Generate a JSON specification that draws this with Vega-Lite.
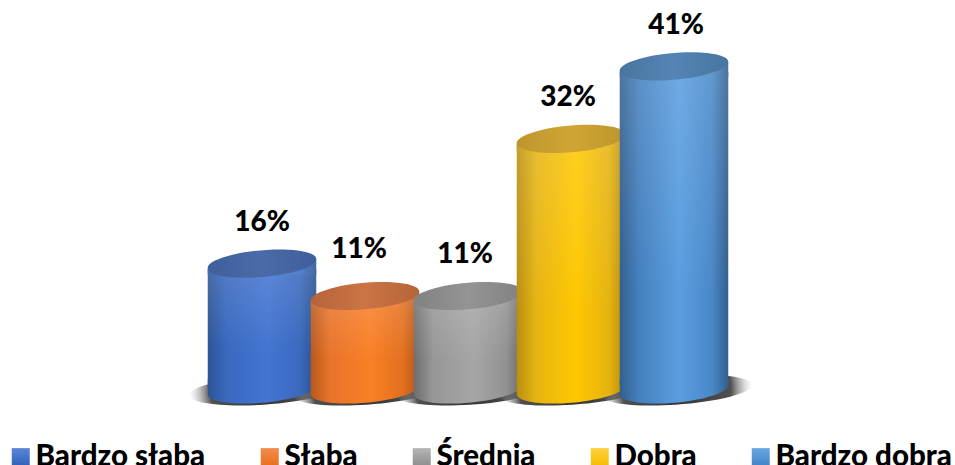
{"$schema":"https://vega.github.io/schema/vega-lite/v6.json","width":955,"height":465,"autosize":"none","padding":0,"background":"white","view":{"stroke":null},
"data":{"values":[{"cat":"Bardzo słaba","v":16.2,"label":"16%"},{"cat":"Słaba","v":12.05,"label":"11%"},{"cat":"Średnia","v":12.05,"label":"11%"},{"cat":"Dobra","v":32.2,"label":"32%"},{"cat":"Bardzo dobra","v":41.5,"label":"41%"}]},
"encoding":{"x":{"field":"cat","type":"nominal","axis":null,"scale":{"type":"band","domain":["Bardzo słaba","Słaba","Średnia","Dobra","Bardzo dobra"],"range":[210.5,725.5],"paddingInner":0,"paddingOuter":0}},"y":{"field":"v","type":"quantitative","axis":null,"scale":{"domain":[0,50],"range":[390,0],"nice":false}}},
"layer":[
{"mark":{"type":"point","filled":true,"opacity":1,"size":0,"shape":"square"},"encoding":{"color":{"field":"cat","type":"nominal","scale":{"domain":["Bardzo słaba","Słaba","Średnia","Dobra","Bardzo dobra"],"range":[{"signal":"{gradient:'linear',x1:0,y1:0,x2:0,y2:1,stops:[{offset:0,color:'#5b86d8'},{offset:1,color:'#2f62b8'}]}"},{"signal":"{gradient:'linear',x1:0,y1:0,x2:0,y2:1,stops:[{offset:0,color:'#f58b4c'},{offset:1,color:'#e8701a'}]}"},{"signal":"{gradient:'linear',x1:0,y1:0,x2:0,y2:1,stops:[{offset:0,color:'#b5b5b5'},{offset:1,color:'#8e8e8e'}]}"},{"signal":"{gradient:'linear',x1:0,y1:0,x2:0,y2:1,stops:[{offset:0,color:'#ffcf40'},{offset:1,color:'#f5bd00'}]}"},{"signal":"{gradient:'linear',x1:0,y1:0,x2:0,y2:1,stops:[{offset:0,color:'#6aa7e0'},{offset:1,color:'#3f85c9'}]}"}]},"legend":{"orient":"none","legendX":6,"legendY":442,"direction":"horizontal","columns":5,"title":null,"symbolType":"square","symbolSize":324,"symbolStrokeWidth":0,"symbolOpacity":1,"labelFont":"Lato","labelFontWeight":900,"labelFontSize":29.5,"labelColor":"#000000","labelOffset":0,"columnPadding":49,"labelLimit":300,"padding":0}}}},
{"mark":{"type":"point","filled":true,"opacity":1,"size":11772,"shape":"M-1.34,0.09 A1.39,0.27,-4,1,1,1.44,-0.09 A1.39,0.27,-4,1,1,-1.34,0.09 Z","color":{"gradient":"radial","x1":0.5,"y1":0.5,"r1":0,"x2":0.5,"y2":0.5,"r2":0.5,"stops":[{"offset":0,"color":"#333333"},{"offset":0.72,"color":"#505050"},{"offset":1,"color":"rgba(180,180,180,0)"}]}},"encoding":{"y":{"datum":0,"type":"quantitative"}}},

{"transform":[{"filter":"datum.cat==='Bardzo słaba'"}],"layer":[
{"mark":{"type":"bar","size":108.5,"yOffset":5.5,"y2Offset":-5.5,"color":{"gradient":"linear","x1":0,"y1":0,"x2":1,"y2":0,"stops":[{"offset":0,"color":"#2c5597"},{"offset":0.18,"color":"#3a69bf"},{"offset":0.55,"color":"#4475d2"},{"offset":0.85,"color":"#3a69be"},{"offset":1,"color":"#2a5290"}]}},"encoding":{"y2":{"datum":0}}},
{"mark":{"type":"bar","size":108.5,"yOffset":5.5,"y2Offset":-5.5,"color":{"gradient":"linear","x1":0,"y1":0,"x2":0,"y2":1,"stops":[{"offset":0,"color":"rgba(255,255,255,0.13)"},{"offset":0.7,"color":"rgba(255,255,255,0)"}]}},"encoding":{"y2":{"datum":0}}},
{"mark":{"type":"point","filled":true,"opacity":1,"size":11772,"shape":"M-1,-0.2 L1,-0.2 L1,-0.087 A1.004,0.24,-5,0,1,-1,0.087 Z","color":{"gradient":"linear","x1":0,"y1":0,"x2":1,"y2":0,"stops":[{"offset":0,"color":"#2c5597"},{"offset":0.18,"color":"#3a69bf"},{"offset":0.55,"color":"#4475d2"},{"offset":0.85,"color":"#3a69be"},{"offset":1,"color":"#2a5290"}]}},"encoding":{"y":{"datum":0,"type":"quantitative"}}},
{"mark":{"type":"point","filled":true,"opacity":1,"size":11772,"shape":"M-1,0.087 L1,-0.087 L1,0.2 L-1,0.2 Z","color":{"gradient":"linear","x1":0,"y1":0,"x2":1,"y2":0,"stops":[{"offset":0,"color":"#456cab"},{"offset":0.18,"color":"#5480cb"},{"offset":0.55,"color":"#5f8ada"},{"offset":0.85,"color":"#5480ca"},{"offset":1,"color":"#4469a5"}]}}},
{"mark":{"type":"point","filled":true,"opacity":1,"size":11772,"shape":"M-1,0.087 A1.004,0.24,-5,1,1,1,-0.087 A1.004,0.24,-5,1,1,-1,0.087 Z","color":{"gradient":"linear","x1":0,"y1":0,"x2":1,"y2":0,"stops":[{"offset":0,"color":"#3e5f9c"},{"offset":0.5,"color":"#4a6aa8"},{"offset":1,"color":"#3e5f9c"}]}}}
]},
{"transform":[{"filter":"datum.cat==='Słaba'"}],"layer":[
{"mark":{"type":"bar","size":108.5,"yOffset":5.5,"y2Offset":-5.5,"color":{"gradient":"linear","x1":0,"y1":0,"x2":1,"y2":0,"stops":[{"offset":0,"color":"#b9581c"},{"offset":0.18,"color":"#e8742a"},{"offset":0.55,"color":"#fa7f26"},{"offset":0.85,"color":"#e2701f"},{"offset":1,"color":"#b55418"}]}},"encoding":{"y2":{"datum":0}}},
{"mark":{"type":"bar","size":108.5,"yOffset":5.5,"y2Offset":-5.5,"color":{"gradient":"linear","x1":0,"y1":0,"x2":0,"y2":1,"stops":[{"offset":0,"color":"rgba(255,255,255,0.13)"},{"offset":0.7,"color":"rgba(255,255,255,0)"}]}},"encoding":{"y2":{"datum":0}}},
{"mark":{"type":"point","filled":true,"opacity":1,"size":11772,"shape":"M-1,-0.2 L1,-0.2 L1,-0.087 A1.004,0.24,-5,0,1,-1,0.087 Z","color":{"gradient":"linear","x1":0,"y1":0,"x2":1,"y2":0,"stops":[{"offset":0,"color":"#b9581c"},{"offset":0.18,"color":"#e8742a"},{"offset":0.55,"color":"#fa7f26"},{"offset":0.85,"color":"#e2701f"},{"offset":1,"color":"#b55418"}]}},"encoding":{"y":{"datum":0,"type":"quantitative"}}},
{"mark":{"type":"point","filled":true,"opacity":1,"size":11772,"shape":"M-1,0.087 L1,-0.087 L1,0.2 L-1,0.2 Z","color":{"gradient":"linear","x1":0,"y1":0,"x2":1,"y2":0,"stops":[{"offset":0,"color":"#c37039"},{"offset":0.18,"color":"#eb8746"},{"offset":0.55,"color":"#fb9047"},{"offset":0.85,"color":"#e68340"},{"offset":1,"color":"#c06d36"}]}}},
{"mark":{"type":"point","filled":true,"opacity":1,"size":11772,"shape":"M-1,0.087 A1.004,0.24,-5,1,1,1,-0.087 A1.004,0.24,-5,1,1,-1,0.087 Z","color":{"gradient":"linear","x1":0,"y1":0,"x2":1,"y2":0,"stops":[{"offset":0,"color":"#b5643a"},{"offset":0.5,"color":"#cc7444"},{"offset":1,"color":"#b5643a"}]}}}
]},
{"transform":[{"filter":"datum.cat==='Średnia'"}],"layer":[
{"mark":{"type":"bar","size":108.5,"yOffset":5.5,"y2Offset":-5.5,"color":{"gradient":"linear","x1":0,"y1":0,"x2":1,"y2":0,"stops":[{"offset":0,"color":"#6e6e6e"},{"offset":0.18,"color":"#979797"},{"offset":0.55,"color":"#a6a6a6"},{"offset":0.85,"color":"#929292"},{"offset":1,"color":"#6a6a6a"}]}},"encoding":{"y2":{"datum":0}}},
{"mark":{"type":"bar","size":108.5,"yOffset":5.5,"y2Offset":-5.5,"color":{"gradient":"linear","x1":0,"y1":0,"x2":0,"y2":1,"stops":[{"offset":0,"color":"rgba(255,255,255,0.13)"},{"offset":0.7,"color":"rgba(255,255,255,0)"}]}},"encoding":{"y2":{"datum":0}}},
{"mark":{"type":"point","filled":true,"opacity":1,"size":11772,"shape":"M-1,-0.2 L1,-0.2 L1,-0.087 A1.004,0.24,-5,0,1,-1,0.087 Z","color":{"gradient":"linear","x1":0,"y1":0,"x2":1,"y2":0,"stops":[{"offset":0,"color":"#6e6e6e"},{"offset":0.18,"color":"#979797"},{"offset":0.55,"color":"#a6a6a6"},{"offset":0.85,"color":"#929292"},{"offset":1,"color":"#6a6a6a"}]}},"encoding":{"y":{"datum":0,"type":"quantitative"}}},
{"mark":{"type":"point","filled":true,"opacity":1,"size":11772,"shape":"M-1,0.087 L1,-0.087 L1,0.2 L-1,0.2 Z","color":{"gradient":"linear","x1":0,"y1":0,"x2":1,"y2":0,"stops":[{"offset":0,"color":"#808080"},{"offset":0.18,"color":"#a5a5a5"},{"offset":0.55,"color":"#b2b2b2"},{"offset":0.85,"color":"#a1a1a1"},{"offset":1,"color":"#7d7d7d"}]}}},
{"mark":{"type":"point","filled":true,"opacity":1,"size":11772,"shape":"M-1,0.087 A1.004,0.24,-5,1,1,1,-0.087 A1.004,0.24,-5,1,1,-1,0.087 Z","color":{"gradient":"linear","x1":0,"y1":0,"x2":1,"y2":0,"stops":[{"offset":0,"color":"#828282"},{"offset":0.5,"color":"#949494"},{"offset":1,"color":"#828282"}]}}}
]},
{"transform":[{"filter":"datum.cat==='Dobra'"}],"layer":[
{"mark":{"type":"bar","size":108.5,"yOffset":5.5,"y2Offset":-5.5,"color":{"gradient":"linear","x1":0,"y1":0,"x2":1,"y2":0,"stops":[{"offset":0,"color":"#b98f10"},{"offset":0.18,"color":"#e6b412"},{"offset":0.55,"color":"#ffc800"},{"offset":0.85,"color":"#e5b30f"},{"offset":1,"color":"#b48c0c"}]}},"encoding":{"y2":{"datum":0}}},
{"mark":{"type":"bar","size":108.5,"yOffset":5.5,"y2Offset":-5.5,"color":{"gradient":"linear","x1":0,"y1":0,"x2":0,"y2":1,"stops":[{"offset":0,"color":"rgba(255,255,255,0.13)"},{"offset":0.7,"color":"rgba(255,255,255,0)"}]}},"encoding":{"y2":{"datum":0}}},
{"mark":{"type":"point","filled":true,"opacity":1,"size":11772,"shape":"M-1,-0.2 L1,-0.2 L1,-0.087 A1.004,0.24,-5,0,1,-1,0.087 Z","color":{"gradient":"linear","x1":0,"y1":0,"x2":1,"y2":0,"stops":[{"offset":0,"color":"#b98f10"},{"offset":0.18,"color":"#e6b412"},{"offset":0.55,"color":"#ffc800"},{"offset":0.85,"color":"#e5b30f"},{"offset":1,"color":"#b48c0c"}]}},"encoding":{"y":{"datum":0,"type":"quantitative"}}},
{"mark":{"type":"point","filled":true,"opacity":1,"size":11772,"shape":"M-1,0.087 L1,-0.087 L1,0.2 L-1,0.2 Z","color":{"gradient":"linear","x1":0,"y1":0,"x2":1,"y2":0,"stops":[{"offset":0,"color":"#c39f31"},{"offset":0.18,"color":"#eac033"},{"offset":0.55,"color":"#ffd02e"},{"offset":0.85,"color":"#e9bf30"},{"offset":1,"color":"#bf9b2e"}]}}},
{"mark":{"type":"point","filled":true,"opacity":1,"size":11772,"shape":"M-1,0.087 A1.004,0.24,-5,1,1,1,-0.087 A1.004,0.24,-5,1,1,-1,0.087 Z","color":{"gradient":"linear","x1":0,"y1":0,"x2":1,"y2":0,"stops":[{"offset":0,"color":"#bd962b"},{"offset":0.5,"color":"#d0a535"},{"offset":1,"color":"#bd962b"}]}}}
]},
{"transform":[{"filter":"datum.cat==='Bardzo dobra'"}],"layer":[
{"mark":{"type":"bar","size":108.5,"yOffset":5.5,"y2Offset":-5.5,"color":{"gradient":"linear","x1":0,"y1":0,"x2":1,"y2":0,"stops":[{"offset":0,"color":"#335f8e"},{"offset":0.18,"color":"#4580be"},{"offset":0.55,"color":"#5a9ee0"},{"offset":0.85,"color":"#4a88c8"},{"offset":1,"color":"#335f8e"}]}},"encoding":{"y2":{"datum":0}}},
{"mark":{"type":"bar","size":108.5,"yOffset":5.5,"y2Offset":-5.5,"color":{"gradient":"linear","x1":0,"y1":0,"x2":0,"y2":1,"stops":[{"offset":0,"color":"rgba(255,255,255,0.13)"},{"offset":0.7,"color":"rgba(255,255,255,0)"}]}},"encoding":{"y2":{"datum":0}}},
{"mark":{"type":"point","filled":true,"opacity":1,"size":11772,"shape":"M-1,-0.2 L1,-0.2 L1,-0.087 A1.004,0.24,-5,0,1,-1,0.087 Z","color":{"gradient":"linear","x1":0,"y1":0,"x2":1,"y2":0,"stops":[{"offset":0,"color":"#335f8e"},{"offset":0.18,"color":"#4580be"},{"offset":0.55,"color":"#5a9ee0"},{"offset":0.85,"color":"#4a88c8"},{"offset":1,"color":"#335f8e"}]}},"encoding":{"y":{"datum":0,"type":"quantitative"}}},
{"mark":{"type":"point","filled":true,"opacity":1,"size":11772,"shape":"M-1,0.087 L1,-0.087 L1,0.2 L-1,0.2 Z","color":{"gradient":"linear","x1":0,"y1":0,"x2":1,"y2":0,"stops":[{"offset":0,"color":"#4c739c"},{"offset":0.18,"color":"#5d90c6"},{"offset":0.55,"color":"#70abe4"},{"offset":0.85,"color":"#6296cf"},{"offset":1,"color":"#4c739c"}]}}},
{"mark":{"type":"point","filled":true,"opacity":1,"size":11772,"shape":"M-1,0.087 A1.004,0.24,-5,1,1,1,-0.087 A1.004,0.24,-5,1,1,-1,0.087 Z","color":{"gradient":"linear","x1":0,"y1":0,"x2":1,"y2":0,"stops":[{"offset":0,"color":"#47759f"},{"offset":0.5,"color":"#5585b5"},{"offset":1,"color":"#47759f"}]}}}
]},
{"transform":[{"filter":"datum.cat==='Bardzo słaba'"}],"mark":{"type":"text","font":"Lato","fontWeight":900,"fontSize":28,"color":"#000000","dy":-41},"encoding":{"text":{"field":"label"}}},
{"transform":[{"filter":"datum.cat==='Słaba'"}],"mark":{"type":"text","font":"Lato","fontWeight":900,"fontSize":28,"color":"#000000","dy":-46,"dx":-6},"encoding":{"text":{"field":"label"}}},
{"transform":[{"filter":"datum.cat==='Średnia'"}],"mark":{"type":"text","font":"Lato","fontWeight":900,"fontSize":28,"color":"#000000","dy":-41,"dx":-3},"encoding":{"text":{"field":"label"}}},
{"transform":[{"filter":"datum.cat==='Dobra'"}],"mark":{"type":"text","font":"Lato","fontWeight":900,"fontSize":28,"color":"#000000","dy":-41,"dx":-3},"encoding":{"text":{"field":"label"}}},
{"transform":[{"filter":"datum.cat==='Bardzo dobra'"}],"mark":{"type":"text","font":"Lato","fontWeight":900,"fontSize":28,"color":"#000000","dy":-40,"dx":2},"encoding":{"text":{"field":"label"}}}
]}
